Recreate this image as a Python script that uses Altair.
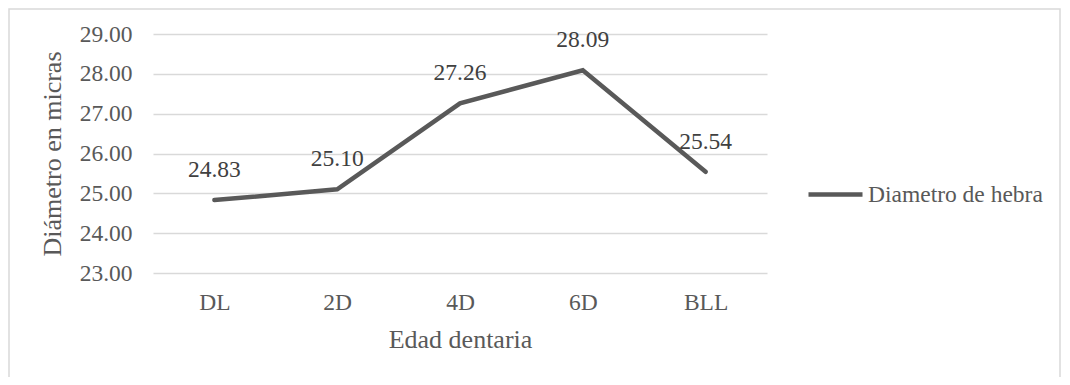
import altair as alt
import pandas as pd

categorias = ["DL", "2D", "4D", "6D", "BLL"]
valores = [24.83, 25.10, 27.26, 28.09, 25.54]
serie = ["Diametro de hebra"] * 5
y_ticks = [23, 24, 25, 26, 27, 28, 29]

df = pd.DataFrame({"edad": categorias, "diametro": valores, "serie": serie})

FONT = "Liberation Serif, Times New Roman, serif"
GRAY = "#595959"
FS = 23.5
TFS = 26

x_enc = alt.X("edad:N", sort=categorias,
              scale=alt.Scale(type="point", padding=0.5),
              axis=alt.Axis(title="Edad dentaria", labelAngle=0, ticks=False, domain=False,
                            labelPadding=17, titleY=66, titleBaseline="middle",
                            labelFontSize=FS, titleFontSize=TFS, titleFontWeight="normal",
                            labelColor=GRAY, titleColor=GRAY, labelFont=FONT, titleFont=FONT))
y_enc = alt.Y("diametro:Q",
              scale=alt.Scale(domain=[23, 29], nice=False, zero=False),
              axis=alt.Axis(title="Diámetro en micras", values=y_ticks, tickCount=7,
                            format=".2f", ticks=False, domain=False, labelPadding=21,
                            labelOverlap=False,
                            gridColor="#d9d9d9", gridWidth=1.3,
                            titleX=-101, titleY=119.5, titleAngle=-90, titleAlign="center",
                            titleBaseline="middle",
                            labelFontSize=FS, titleFontSize=TFS, titleFontWeight="normal",
                            labelColor=GRAY, titleColor=GRAY, labelFont=FONT, titleFont=FONT))

line = alt.Chart(df).mark_line(strokeWidth=4.5, strokeCap="round").encode(
    x=x_enc, y=y_enc,
    color=alt.Color("serie:N", scale=alt.Scale(range=[GRAY]),
                    legend=alt.Legend(title=None, orient="none", legendX=653, legendY=131,
                                      symbolType="stroke", symbolSize=2916, symbolStrokeWidth=4.5,
                                      labelFont=FONT, labelFontSize=FS, labelColor=GRAY,
                                      labelLimit=0, labelOffset=3, padding=0))
)

labels = alt.Chart(df).mark_text(dy=-30, baseline="middle", align="center",
                                 font=FONT, fontSize=FS, color="#404040").encode(
    x=x_enc, y=y_enc,
    text=alt.Text("diametro:Q", format=".2f"))

border = alt.Chart(alt.Data(values=[{}])).mark_rect(
    fillOpacity=0, stroke="#d9d9d9", strokeWidth=1.5).encode(
    x=alt.value(-144), x2=alt.value(907), y=alt.value(-25), y2=alt.value(400))

chart = alt.layer(border, line, labels).properties(
    width=614, height=239,
    autosize=alt.AutoSizeParams(type="none"),
    padding={"left": 145, "top": 26, "right": 295, "bottom": 104},
).configure_view(stroke=None)

chart.save("out.html", embed_options={"renderer": "svg", "actions": False})
